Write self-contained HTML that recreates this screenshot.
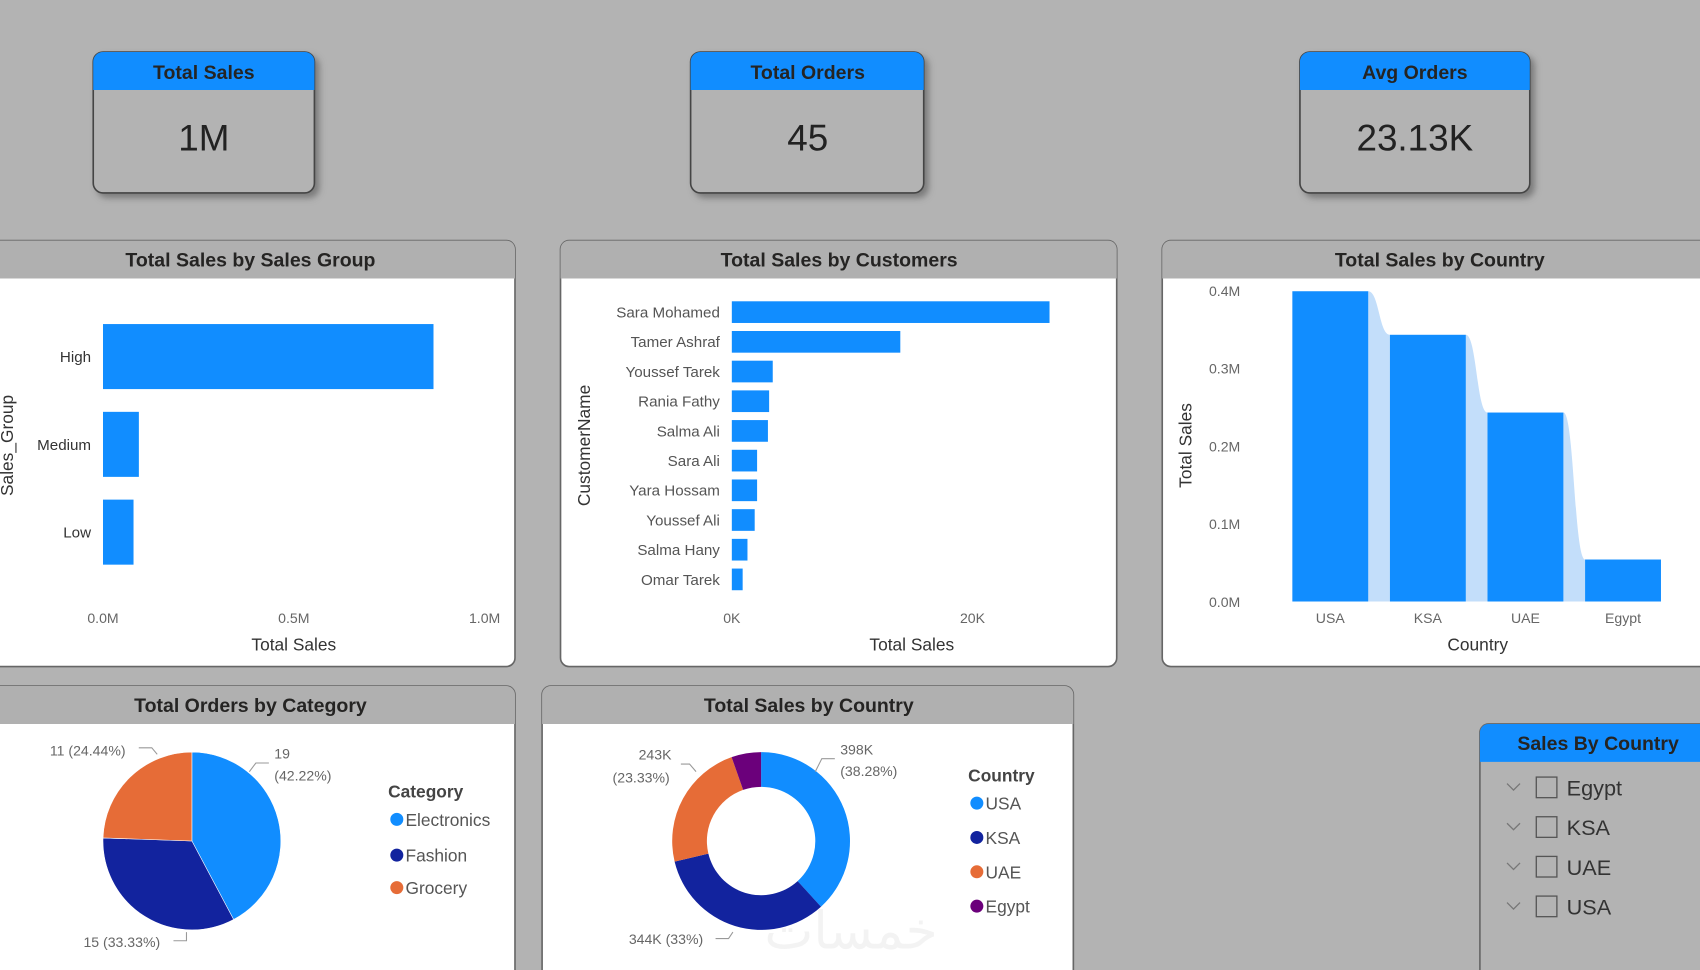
<!DOCTYPE html>
<html><head><meta charset="utf-8">
<style>
html,body{margin:0;padding:0;background:#b3b3b3;width:1700px;height:970px;overflow:hidden}
svg{display:block;font-family:"Liberation Sans",sans-serif}
.tick{fill:#666;font-size:13px}
.ttl{fill:#252423;font-size:18px;font-weight:bold;font-family:"Liberation Sans Narrow","Liberation Sans",sans-serif}
.axt{fill:#333;font-size:16px}
</style></head>
<body>
<svg id="dash" width="1700" height="970" viewBox="0 0 1568 895" preserveAspectRatio="none">
<defs>
<filter id="sh" x="-10%" y="-10%" width="130%" height="130%"><feDropShadow dx="4" dy="4" stdDeviation="3" flood-color="#555" flood-opacity="0.6"/></filter>
</defs>
<rect width="1568" height="895" fill="#b3b3b3"/>
<g>
<rect x="86" y="48" width="204" height="130" rx="9" fill="#b3b3b3" stroke="#444" stroke-width="1.5" filter="url(#sh)"/>
<path d="M86,57 a9,9 0 0 1 9,-9 h186 a9,9 0 0 1 9,9 v26 h-204z" fill="#118dff"/>
<text x="188" y="73" text-anchor="middle" class="ttl" fill="#111">Total Sales</text>
<text x="188" y="139" text-anchor="middle" font-size="34" fill="#222">1M</text></g>
<g>
<rect x="637" y="48" width="215" height="130" rx="9" fill="#b3b3b3" stroke="#444" stroke-width="1.5" filter="url(#sh)"/>
<path d="M637,57 a9,9 0 0 1 9,-9 h197 a9,9 0 0 1 9,9 v26 h-215z" fill="#118dff"/>
<text x="745" y="73" text-anchor="middle" class="ttl" fill="#111">Total Orders</text>
<text x="745" y="139" text-anchor="middle" font-size="34" fill="#222">45</text></g>
<g>
<rect x="1199" y="48" width="212" height="130" rx="9" fill="#b3b3b3" stroke="#444" stroke-width="1.5" filter="url(#sh)"/>
<path d="M1199,57 a9,9 0 0 1 9,-9 h194 a9,9 0 0 1 9,9 v26 h-212z" fill="#118dff"/>
<text x="1305" y="73" text-anchor="middle" class="ttl" fill="#111">Avg Orders</text>
<text x="1305" y="139" text-anchor="middle" font-size="34" fill="#222">23.13K</text></g>

<g>
<rect x="-10" y="222" width="485" height="393" rx="8" fill="#fff" stroke="#666" stroke-width="1.5"/>
<path d="M-10,230 a8,8 0 0 1 8,-8 h469 a8,8 0 0 1 8,8 v27 h-485z" fill="#b0b0b0"/>
<text x="231" y="246" text-anchor="middle" class="ttl">Total Sales by Sales Group</text></g>
<g>
<rect x="517" y="222" width="513" height="393" rx="8" fill="#fff" stroke="#666" stroke-width="1.5"/>
<path d="M517,230 a8,8 0 0 1 8,-8 h497 a8,8 0 0 1 8,8 v27 h-513z" fill="#b0b0b0"/>
<text x="774" y="246" text-anchor="middle" class="ttl">Total Sales by Customers</text></g>
<g>
<rect x="1072" y="222" width="510" height="393" rx="8" fill="#fff" stroke="#666" stroke-width="1.5"/>
<path d="M1072,230 a8,8 0 0 1 8,-8 h494 a8,8 0 0 1 8,8 v27 h-510z" fill="#b0b0b0"/>
<text x="1328" y="246" text-anchor="middle" class="ttl">Total Sales by Country</text></g>
<g>
<rect x="-10" y="633" width="485" height="290" rx="8" fill="#fff" stroke="#666" stroke-width="1.5"/>
<path d="M-10,641 a8,8 0 0 1 8,-8 h469 a8,8 0 0 1 8,8 v27 h-485z" fill="#b0b0b0"/>
<text x="231" y="657" text-anchor="middle" class="ttl">Total Orders by Category</text></g>
<g>
<rect x="500" y="633" width="490" height="290" rx="8" fill="#fff" stroke="#666" stroke-width="1.5"/>
<path d="M500,641 a8,8 0 0 1 8,-8 h474 a8,8 0 0 1 8,8 v27 h-490z" fill="#b0b0b0"/>
<text x="746" y="657" text-anchor="middle" class="ttl">Total Sales by Country</text></g>

<g>
<rect x="1365" y="668" width="220" height="250" rx="8" fill="#b3b3b3" stroke="#666" stroke-width="1.5"/>
<path d="M1365,676 a8,8 0 0 1 8,-8 h204 a8,8 0 0 1 8,8 v27 h-220z" fill="#118dff"/>
<text x="1474" y="692" text-anchor="middle" class="ttl" fill="#111">Sales By Country</text>
</g>
<g id="slicer"></g>

<g id="c1"></g><g id="c2"></g><g id="c3"></g><g id="c4"></g><g id="c5"></g>
<text x="785" y="875" text-anchor="middle" font-size="48" fill="#f2f2f2" opacity="0.85" font-family="'DejaVu Sans',sans-serif">خمسات</text>
</svg>
<script>
const NS="http://www.w3.org/2000/svg";
function mk(p,t,a,txt){const e=document.createElementNS(NS,t);for(const k in a)e.setAttribute(k,a[k]);if(txt!==undefined)e.textContent=txt;document.getElementById(p).appendChild(e);return e;}

const groupCats=["High","Medium","Low"];
const groupVals=[0.866,0.094,0.08];
const groupTicks=[0,0.5,1.0];
const custNames=["Sara Mohamed","Tamer Ashraf","Youssef Tarek","Rania Fathy","Salma Ali","Sara Ali","Yara Hossam","Youssef Ali","Salma Hany","Omar Tarek"];
const custVals=[26.4,14.0,3.4,3.1,3.0,2.1,2.1,1.9,1.3,0.9];
const custTicks=[0,20];
const countryCats=["USA","KSA","UAE","Egypt"];
const countryVals=[0.399,0.343,0.243,0.054];
const countryTicks=[0,0.1,0.2,0.3,0.4];
const catNames=["Electronics","Fashion","Grocery"];
const catVals=[19,15,11];
const catColors=["#118dff","#12239e","#e66c37"];
const dNames=["USA","KSA","UAE","Egypt"];
const dVals=[398,344,243,56];
const dColors=["#118dff","#12239e","#e66c37","#6b007b"];
const slicerItems=["Egypt","KSA","UAE","USA"];

(function(){
 const x=v=>95+v*352; const bandY=i=>299+i*81;
 groupTicks.forEach(t=>{const e=mk("c1","text",{x:x(t),y:575,"text-anchor":"middle",class:"tick"},t.toFixed(1)+"M");
 });
 groupCats.forEach((c,i)=>{
  const r=mk("c1","rect",{x:x(0),y:bandY(i),width:x(groupVals[i])-x(0),height:60,fill:"#118dff"});
  
  const l=mk("c1","text",{x:84,y:bandY(i)+35,"text-anchor":"end",fill:"#333","font-size":"14"},c);
  
 });
 const t=mk("c1","text",{x:271,y:600,"text-anchor":"middle",class:"axt"},"Total Sales");
 
 const y=mk("c1","text",{x:12,y:411,"text-anchor":"middle",class:"axt",transform:"rotate(-90 12 411)"},"Sales_Group");
 
})();

(function(){
 const x=v=>675+v*11.1; const cy=i=>288+i*27.4;
 custTicks.forEach(t=>{const e=mk("c2","text",{x:x(t),y:575,"text-anchor":"middle",class:"tick"},t+"K");
 });
 custNames.forEach((n,i)=>{
  const r=mk("c2","rect",{x:x(0),y:cy(i)-10,width:x(custVals[i])-x(0),height:20,fill:"#118dff"});
  
  const l=mk("c2","text",{x:664,y:cy(i)+5,"text-anchor":"end",fill:"#555","font-size":"14"},n);
  
 });
 const t=mk("c2","text",{x:841,y:600,"text-anchor":"middle",class:"axt"},"Total Sales");
 
 const y=mk("c2","text",{x:544,y:411,"text-anchor":"middle",class:"axt",transform:"rotate(-90 544 411)"},"CustomerName");
 
})();

(function(){
 const y=v=>555-v*717.5; const bx=i=>1192+i*90; const bw=70;
 countryTicks.forEach(t=>{const e=mk("c3","text",{x:1144,y:y(t)+5,"text-anchor":"end",class:"tick"},t.toFixed(1)+"M");
 });
 for(let i=0;i<countryVals.length-1;i++){
  const x0=bx(i)+bw,x1=bx(i+1),y0=y(countryVals[i]),y1=y(countryVals[i+1]),m=(x0+x1)/2;
  const p=mk("c3","path",{d:`M${x0},${y0} C${m},${y0} ${m},${y1} ${x1},${y1} L${x1},${y(0)} L${x0},${y(0)}Z`,fill:"#c3defa"});
  
 }
 countryCats.forEach((c,i)=>{
  const r=mk("c3","rect",{x:bx(i),y:y(countryVals[i]),width:bw,height:y(0)-y(countryVals[i]),fill:"#118dff"});
  
  const l=mk("c3","text",{x:bx(i)+bw/2,y:575,"text-anchor":"middle",class:"tick"},c);
  
 });
 const t=mk("c3","text",{x:1363,y:600,"text-anchor":"middle",class:"axt"},"Country");
 
 const yt=mk("c3","text",{x:1099,y:411,"text-anchor":"middle",class:"axt",transform:"rotate(-90 1099 411)"},"Total Sales");
 
})();

function arc(cx,cy,r,ri,a0,a1){
 const p=(rr,a)=>[cx+rr*Math.sin(a),cy-rr*Math.cos(a)];
 const lg=(a1-a0)>Math.PI?1:0;const [x0,y0]=p(r,a0),[x1,y1]=p(r,a1);
 if(!ri)return `M${cx},${cy}L${x0},${y0}A${r},${r} 0 ${lg} 1 ${x1},${y1}Z`;
 const [x2,y2]=p(ri,a1),[x3,y3]=p(ri,a0);
 return `M${x0},${y0}A${r},${r} 0 ${lg} 1 ${x1},${y1}L${x2},${y2}A${ri},${ri} 0 ${lg} 0 ${x3},${y3}Z`;
}
(function(){
 const tot=catVals.reduce((a,b)=>a+b,0);let a=0;
 catVals.forEach((v,i)=>{const a1=a+v/tot*2*Math.PI;
  const s=mk("c4","path",{d:arc(177,776,82,0,a,a1),fill:catColors[i],stroke:"#fff","stroke-width":"0.5"});
  a=a1;});
 const lbl=[[253,700,"19"],[253,720,"(42.22%)"],[46,697,"11 (24.44%)"],[77,874,"15 (33.33%)"]];
 lbl.forEach(l=>{const e=mk("c4","text",{x:l[0],y:l[1],fill:"#666","font-size":"13"},l[2]);
  });
 mk("c4","path",{d:"M230,712 L236,704 L248,704 M128,690 L140,690 L145,696 M160,868 L172,868 L172,860",stroke:"#999",fill:"none"});
 const lt=mk("c4","text",{x:358,y:736,"font-size":"16","font-weight":"bold",fill:"#444"},"Category");
 
 catNames.forEach((n,i)=>{const yy=[756,789,819][i];
  const c=mk("c4","circle",{cx:366,cy:yy,r:6,fill:catColors[i]});
  const t=mk("c4","text",{x:374,y:yy+6,"font-size":"16",fill:"#555"},n);});
})();
(function(){
 const tot=dVals.reduce((a,b)=>a+b,0);let a=0;
 dVals.forEach((v,i)=>{const a1=a+v/tot*2*Math.PI;
  const s=mk("c5","path",{d:arc(702,776,82,50,a,a1),fill:dColors[i]});
  a=a1;});
 const lbl=[[775,696,"398K"],[775,716,"(38.28%)"],[589,701,"243K"],[565,722,"(23.33%)"],[580,871,"344K (33%)"]];
 lbl.forEach(l=>{const e=mk("c5","text",{x:l[0],y:l[1],fill:"#666","font-size":"13"},l[2]);
  });
 mk("c5","path",{d:"M752,712 L758,700 L770,700 M628,705 L636,705 L642,712 M660,866 L672,866 L676,860",stroke:"#999",fill:"none"});
 const lt=mk("c5","text",{x:893,y:721,"font-size":"16","font-weight":"bold",fill:"#444"},"Country");
 
 dNames.forEach((n,i)=>{const yy=741+i*31.7;
  const c=mk("c5","circle",{cx:901,cy:yy,r:6,fill:dColors[i]});
  const t=mk("c5","text",{x:909,y:yy+6,"font-size":"16",fill:"#555"},n);});
})();
slicerItems.forEach((n,i)=>{const yy=727+i*36.6;
 const ch=mk("slicer","path",{d:`M1390,${yy-4} l6,6 l6,-6`,stroke:"#777",fill:"none","stroke-width":"1.2"});
 
 const b=mk("slicer","rect",{x:1417,y:yy-10,width:19,height:19,fill:"none",stroke:"#555","stroke-width":"1.2"});
 
 const t=mk("slicer","text",{x:1445,y:yy+7,"font-size":"20",fill:"#333"},n);
 
});
</script>
</body></html>
